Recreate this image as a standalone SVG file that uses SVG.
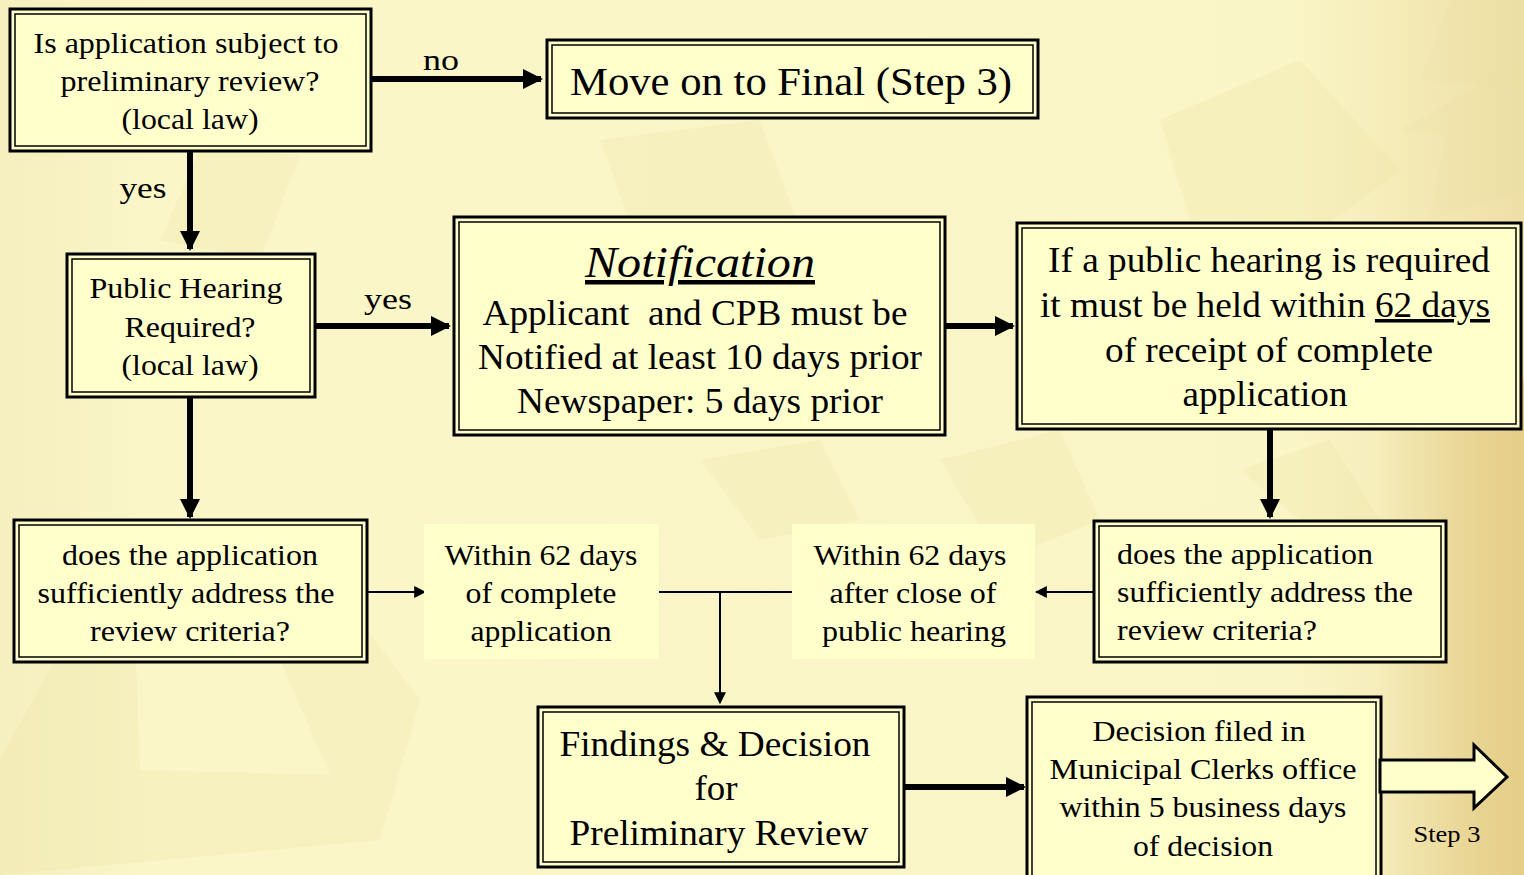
<svg xmlns="http://www.w3.org/2000/svg" width="1524" height="875" viewBox="0 0 1524 875">
<defs>
<linearGradient id="bg" x1="0" y1="0" x2="1" y2="0">
<stop offset="0" stop-color="#F6EFBF"/>
<stop offset="0.1" stop-color="#FAF6C8"/>
<stop offset="0.85" stop-color="#FAF5C6"/>
<stop offset="1" stop-color="#EEDFA6"/>
</linearGradient>
<linearGradient id="edge" x1="0" y1="0" x2="1" y2="0">
<stop offset="0" stop-color="#E3CB82" stop-opacity="0"/>
<stop offset="1" stop-color="#E3CB82" stop-opacity="0.9"/>
</linearGradient>
<marker id="ah" viewBox="0 0 10 10" refX="9" refY="5" markerWidth="3.4" markerHeight="3.4" orient="auto" markerUnits="strokeWidth">
<path d="M0,0 L10,5 L0,10 z" fill="#000"/>
</marker>
<marker id="ahs" viewBox="0 0 10 10" refX="9" refY="5" markerWidth="6" markerHeight="6" orient="auto" markerUnits="strokeWidth">
<path d="M0,0 L10,5 L0,10 z" fill="#000"/>
</marker>
</defs>
<style>
.o{fill:#FFFFCC;stroke:#000;stroke-width:3}
.i{fill:none;stroke:#000;stroke-width:1.5}
text{font-family:"Liberation Serif","Times New Roman",Times,serif;fill:#000;text-anchor:middle}
.s28{font-size:29px}
.s34{font-size:35px}
.thick{stroke:#000;stroke-width:6;fill:none}
.thin{stroke:#000;stroke-width:2;fill:none}
.gear{fill:#EADDA0;opacity:0.22}
</style>
<rect x="0" y="0" width="1524" height="875" fill="url(#bg)"/>
<rect x="1380" y="380" width="144" height="495" fill="url(#edge)"/>
<g id="background">
<polygon class="gear" points="60,650 135,640 140,770 330,775 280,660 360,620 420,700 380,840 0,875 0,760"/>
<polygon class="gear" points="200,150 300,155 260,260 160,240"/>
<polygon class="gear" points="600,140 760,120 800,230 640,250"/>
<polygon class="gear" points="1160,120 1300,60 1400,170 1320,230 1190,220"/>
<polygon class="gear" points="1420,80 1524,90 1524,0 1450,0"/>
<polygon class="gear" points="1400,130 1445,135 1430,220 1524,190 1524,60"/>
<polygon class="gear" points="700,460 820,440 860,520 760,540"/>
<polygon class="gear" points="940,460 1060,430 1100,520 1000,560"/>
<polygon class="gear" points="1240,470 1330,440 1380,520 1300,520"/>
</g>
<g id="connectors">
<line class="thick" x1="372" y1="79" x2="541" y2="79" marker-end="url(#ah)"/>
<line class="thick" x1="190" y1="152" x2="190" y2="249" marker-end="url(#ah)"/>
<line class="thick" x1="316" y1="326" x2="449" y2="326" marker-end="url(#ah)"/>
<line class="thick" x1="190" y1="398" x2="190" y2="517" marker-end="url(#ah)"/>
<line class="thick" x1="946" y1="326" x2="1013" y2="326" marker-end="url(#ah)"/>
<line class="thick" x1="1270" y1="430" x2="1270" y2="517" marker-end="url(#ah)"/>
<line class="thick" x1="905" y1="787" x2="1024" y2="787" marker-end="url(#ah)"/>
<line class="thin" x1="368" y1="592" x2="425" y2="592" marker-end="url(#ahs)"/>
<line class="thin" x1="1093" y1="592" x2="1036" y2="592" marker-end="url(#ahs)"/>
<line class="thin" x1="659" y1="592" x2="793" y2="592"/>
<line class="thin" x1="720" y1="592" x2="720" y2="703" marker-end="url(#ahs)"/>
<text class="s28" x="441" y="70" textLength="36" lengthAdjust="spacingAndGlyphs">no</text>
<text class="s28" x="143" y="198" textLength="47" lengthAdjust="spacingAndGlyphs">yes</text>
<text class="s28" x="388" y="309" textLength="48" lengthAdjust="spacingAndGlyphs">yes</text>
</g>
<g id="n1">
<rect class="o" x="10" y="9" width="361" height="142"/>
<rect class="i" x="15" y="14" width="351" height="132"/>
<text class="s28" x="186" y="53" textLength="305" lengthAdjust="spacingAndGlyphs">Is application subject to</text>
<text class="s28" x="190" y="91" textLength="259" lengthAdjust="spacingAndGlyphs">preliminary review?</text>
<text class="s28" x="190" y="129" textLength="137" lengthAdjust="spacingAndGlyphs">(local law)</text>
</g>
<g id="n2">
<rect class="o" x="547" y="40" width="491" height="78"/>
<rect class="i" x="552" y="45" width="481" height="68"/>
<text style="font-size:39px" x="791" y="95" textLength="442" lengthAdjust="spacingAndGlyphs">Move on to Final (Step 3)</text>
</g>
<g id="n3">
<rect class="o" x="67" y="254" width="248" height="143"/>
<rect class="i" x="72" y="259" width="238" height="133"/>
<text class="s28" x="186" y="298" textLength="193" lengthAdjust="spacingAndGlyphs">Public Hearing</text>
<text class="s28" x="190" y="337" textLength="131" lengthAdjust="spacingAndGlyphs">Required?</text>
<text class="s28" x="190" y="375" textLength="137" lengthAdjust="spacingAndGlyphs">(local law)</text>
</g>
<g id="n4">
<rect class="o" x="454" y="217" width="491" height="218"/>
<rect class="i" x="459" y="222" width="481" height="208"/>
<text style="font-size:45px;font-style:italic;text-decoration:underline" x="700" y="277" textLength="230" lengthAdjust="spacingAndGlyphs">Notification</text>
<text class="s34" x="695" y="325" xml:space="preserve" textLength="425" lengthAdjust="spacingAndGlyphs">Applicant  and CPB must be</text>
<text class="s34" x="700" y="369" textLength="444" lengthAdjust="spacingAndGlyphs">Notified at least 10 days prior</text>
<text class="s34" x="700" y="413" textLength="366" lengthAdjust="spacingAndGlyphs">Newspaper: 5 days prior</text>
</g>
<g id="n5">
<rect class="o" x="1017" y="223" width="504" height="206"/>
<rect class="i" x="1022" y="228" width="494" height="196"/>
<text class="s34" x="1269" y="272" textLength="442" lengthAdjust="spacingAndGlyphs">If a public hearing is required</text>
<text class="s34" x="1265" y="317" textLength="450" lengthAdjust="spacingAndGlyphs">it must be held within <tspan style="text-decoration:underline">62 days</tspan></text>
<text class="s34" x="1269" y="362" textLength="328" lengthAdjust="spacingAndGlyphs">of receipt of complete</text>
<text class="s34" x="1265" y="406" textLength="165" lengthAdjust="spacingAndGlyphs">application</text>
</g>
<g id="n6">
<rect class="o" x="14" y="520" width="353" height="142"/>
<rect class="i" x="19" y="525" width="343" height="132"/>
<text class="s28" x="190" y="565" textLength="256" lengthAdjust="spacingAndGlyphs">does the application</text>
<text class="s28" x="186" y="603" textLength="297" lengthAdjust="spacingAndGlyphs">sufficiently address the</text>
<text class="s28" x="190" y="641" textLength="200" lengthAdjust="spacingAndGlyphs">review criteria?</text>
</g>
<g id="n7">
<rect x="424" y="524" width="235" height="135" fill="#FFFFCC"/>
<text class="s28" x="541" y="565" textLength="193" lengthAdjust="spacingAndGlyphs">Within 62 days</text>
<text class="s28" x="541" y="603" textLength="151" lengthAdjust="spacingAndGlyphs">of complete</text>
<text class="s28" x="541" y="641" textLength="141" lengthAdjust="spacingAndGlyphs">application</text>
</g>
<g id="n8">
<rect x="792" y="524" width="243" height="135" fill="#FFFFCC"/>
<text class="s28" x="910" y="565" textLength="193" lengthAdjust="spacingAndGlyphs">Within 62 days</text>
<text class="s28" x="913" y="603" textLength="167" lengthAdjust="spacingAndGlyphs">after close of</text>
<text class="s28" x="914" y="641" textLength="184" lengthAdjust="spacingAndGlyphs">public hearing</text>
</g>
<g id="n9">
<rect class="o" x="1094" y="521" width="352" height="141"/>
<rect class="i" x="1099" y="526" width="342" height="131"/>
<text class="s28" style="text-anchor:start" x="1117" y="564" textLength="256" lengthAdjust="spacingAndGlyphs">does the application</text>
<text class="s28" style="text-anchor:start" x="1117" y="602" textLength="296" lengthAdjust="spacingAndGlyphs">sufficiently address the</text>
<text class="s28" style="text-anchor:start" x="1117" y="640" textLength="200" lengthAdjust="spacingAndGlyphs">review criteria?</text>
</g>
<g id="n10">
<rect class="o" x="538" y="707" width="366" height="160"/>
<rect class="i" x="543" y="712" width="356" height="150"/>
<text class="s34" x="715" y="756" textLength="311" lengthAdjust="spacingAndGlyphs">Findings &amp; Decision</text>
<text class="s34" x="716" y="800" textLength="43" lengthAdjust="spacingAndGlyphs">for</text>
<text class="s34" x="719" y="845" textLength="299" lengthAdjust="spacingAndGlyphs">Preliminary Review</text>
</g>
<g id="n11">
<rect class="o" x="1027" y="697" width="354" height="180"/>
<rect class="i" x="1032" y="702" width="344" height="180"/>
<text class="s28" x="1199" y="741" textLength="213" lengthAdjust="spacingAndGlyphs">Decision filed in</text>
<text class="s28" x="1203" y="779" textLength="307" lengthAdjust="spacingAndGlyphs">Municipal Clerks office</text>
<text class="s28" x="1203" y="817" textLength="287" lengthAdjust="spacingAndGlyphs">within 5 business days</text>
<text class="s28" x="1203" y="856" textLength="140" lengthAdjust="spacingAndGlyphs">of decision</text>
</g>
<g id="n12">
<polygon points="1380,760 1474,760 1474,745 1507,777 1474,808 1474,792 1380,792" fill="#FFFFCC" stroke="#000" stroke-width="3" stroke-linejoin="miter"/>
<text style="font-size:23px" x="1447" y="842" textLength="67" lengthAdjust="spacingAndGlyphs">Step 3</text>
</g>
</svg>
